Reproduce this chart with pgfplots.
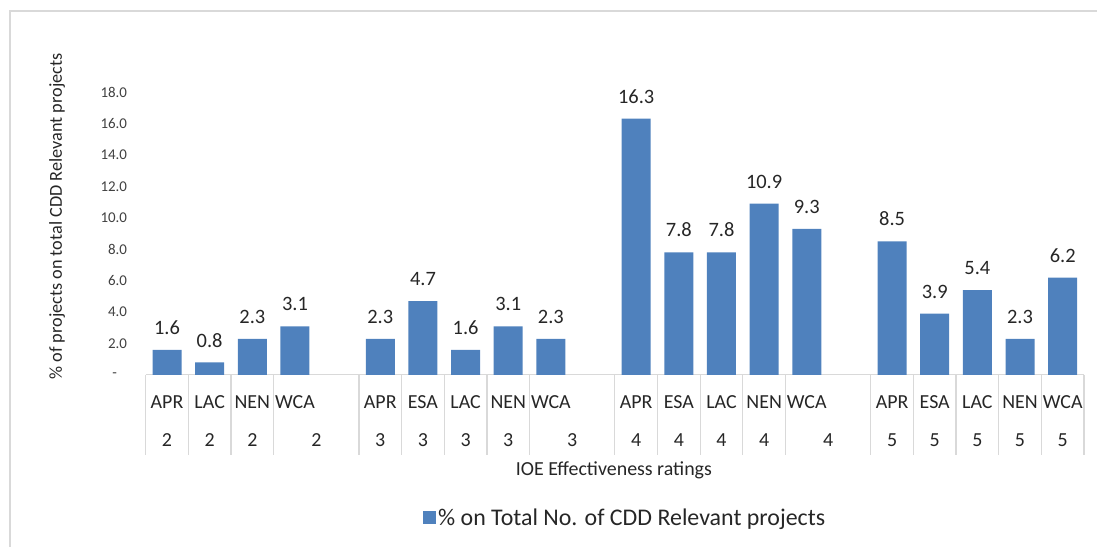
\documentclass[border=0pt]{standalone}
\usepackage{pgfplots}
\pgfplotsset{compat=1.18}
\usepackage{fontspec}
\setmainfont{Carlito}
\definecolor{barblue}{HTML}{4F81BD}
\definecolor{framegray}{HTML}{D9D9D9}
\definecolor{txt}{HTML}{262626}
\definecolor{ticktxt}{HTML}{404040}

\begin{document}
\begin{tikzpicture}[x=1bp,y=1bp]
\useasboundingbox (0,0) rectangle (1097,547);
\draw[framegray, line width=1.5bp] (10,0) -- (10,536) -- (1097,536);
\begin{axis}[
  at={(145.7bp,172bp)}, anchor=south west,
  scale only axis, width=938.3bp, height=283bp,
  xmin=-0.5, xmax=21.5, ymin=0, ymax=18,
  clip=false,
  ybar, bar width=0.68,
  axis lines*=left,
  y axis line style={draw=none},
  x axis line style={draw=framegray, line width=1bp, -},
  major tick length=0pt,
  tick style={draw=none},
  /pgf/number format/assume math mode=true,
  ytick={0,2,4,6,8,10,12,14,16,18},
  yticklabels={-\kern10bp,2.0,4.0,6.0,8.0,10.0,12.0,14.0,16.0,18.0},
  yticklabel style={font=\fontsize{15}{18}\selectfont, text=ticktxt, anchor=east, inner sep=0pt, xshift=-18.5bp},
  xtick={0,...,21},
  xticklabels={APR,LAC,NEN,WCA,{},APR,ESA,LAC,NEN,WCA,{},APR,ESA,LAC,NEN,WCA,{},APR,ESA,LAC,NEN,WCA},
  xticklabel style={font=\fontsize{20}{24}\selectfont, text=txt, anchor=center, inner sep=0pt, yshift=-26.7bp},
  extra x ticks={0,1,2,3.5,5,6,7,8,9.5,11,12,13,14,15.5,17,18,19,20,21},
  extra x tick labels={2,2,2,2,3,3,3,3,3,4,4,4,4,4,5,5,5,5,5},
  extra x tick style={tick label style={yshift=-38.8bp}},
  xlabel={IOE Effectiveness ratings},
  xlabel style={at={(axis description cs:0.499,-0.336)}, anchor=center, font=\fontsize{20}{24}\selectfont, text=txt},
  ylabel={\% of projects on total CDD Relevant projects},
  ylabel style={at={(axis description cs:-0.0945,0.56)}, anchor=center, font=\fontsize{18.3}{22}\selectfont, text=txt},
  legend style={at={(axis description cs:0.511,-0.505)}, anchor=center, draw=none, fill=none,
    font=\fontsize{24}{28}\selectfont, text=txt},
  nodes near coords={\pgfmathprintnumber[fixed, fixed zerofill, precision=1]{\pgfplotspointmeta}},
  nodes near coords style={font=\fontsize{20.5}{24}\selectfont, text=txt, anchor=south, inner sep=0pt, yshift=15bp},
]
\addplot[fill=barblue, draw=none,
  legend image code/.code={\fill[barblue] (-4bp,-6.5bp) rectangle (9bp,6.5bp);}]
  coordinates {
  (0,1.6) (1,0.8) (2,2.3) (3,3.1)
  (5,2.3) (6,4.7) (7,1.6) (8,3.1) (9,2.3)
  (11,16.3) (12,7.8) (13,7.8) (14,10.9) (15,9.3)
  (17,8.5) (18,3.9) (19,5.4) (20,2.3) (21,6.2)
  };
\addlegendentry{\% on Total No. of CDD Relevant projects}
\pgfplotsinvokeforeach{-0.5,0.5,1.5,2.5,4.5,5.5,6.5,7.5,8.5,10.5,11.5,12.5,13.5,14.5,16.5,17.5,18.5,19.5,20.5,21.5}{
  \draw[framegray, line width=1.2bp] (axis cs:#1,0) -- ++(0pt,-80bp);
}
\end{axis}
\end{tikzpicture}
\end{document}
